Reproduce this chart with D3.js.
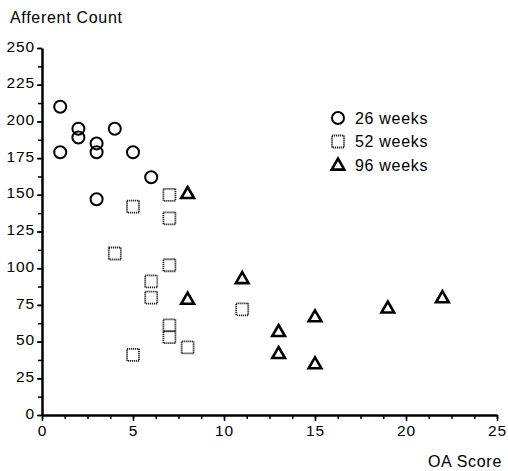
<!DOCTYPE html>
<html>
<head>
<meta charset="utf-8">
<script src="https://cdn.jsdelivr.net/npm/d3@7"></script>
<style>
  body { margin: 0; background: #fff; }
  text { font-family: "Liberation Sans", Arial, sans-serif; fill: #000; }
</style>
</head>
<body>
<script>
// OA score (x) and afferent count (y) for each group
const weeks26X = [1, 1, 2, 2, 3, 3, 3, 4, 5, 6];
const weeks26Y = [210, 179, 195, 189, 185, 179, 147, 195, 179, 162];
const weeks52X = [4, 5, 5, 6, 6, 7, 7, 7, 7, 7, 8, 11];
const weeks52Y = [110, 142, 41, 91, 80, 150, 134, 102, 61, 53, 46, 72];
const weeks96X = [8, 8, 11, 13, 13, 15, 15, 19, 22];
const weeks96Y = [151, 79, 93, 57, 42, 67, 35, 73, 80];
const legendLabels = ['26 weeks', '52 weeks', '96 weeks'];
const xTicks = [0, 5, 10, 15, 20, 25];
const yTicks = [0, 25, 50, 75, 100, 125, 150, 175, 200, 225, 250];

const svg = d3.select('body').append('svg')
    .attr('width', 508)
    .attr('height', 471);

const x = d3.scaleLinear().domain([0, 25]).range([42, 497]);
const y = d3.scaleLinear().domain([0, 250]).range([415, 48]);

// minor ticks
svg.append('g')
    .attr('transform', 'translate(0,415)')
    .call(d3.axisBottom(x).tickValues(d3.range(0, 25.01, 1.25)).tickSize(4).tickFormat(''))
    .call(g => g.select('.domain').remove());
svg.append('g')
    .attr('transform', 'translate(42,0)')
    .call(d3.axisLeft(y).tickValues(d3.range(0, 250.01, 12.5)).tickSize(4).tickFormat(''))
    .call(g => g.select('.domain').remove());

// major ticks + labels
const xAxis = svg.append('g')
    .attr('transform', 'translate(0,415)')
    .call(d3.axisBottom(x).tickValues(xTicks).tickSize(6).tickSizeOuter(0).tickPadding(4));
const yAxis = svg.append('g')
    .attr('transform', 'translate(42,0)')
    .call(d3.axisLeft(y).tickValues(yTicks).tickSize(5).tickSizeOuter(0).tickPadding(2));

[xAxis, yAxis].forEach(g => {
    g.selectAll('text').style('font-size', '15.5px').style('letter-spacing', '0.9px')
        .attr('fill', '#000');
    g.select('.domain').attr('stroke', '#000').attr('stroke-width', 2.5);
});
yAxis.selectAll('text').attr('dy', '0.2em');
svg.selectAll('.tick line').attr('stroke', '#000').attr('stroke-width', 1.5);

svg.append('text').attr('x', 10).attr('y', 23)
    .style('font-size', '16px').style('letter-spacing', '0.7px').text('Afferent Count');
svg.append('text').attr('x', 502).attr('y', 467).attr('text-anchor', 'end')
    .style('font-size', '16px').style('letter-spacing', '0.7px').text('OA Score');

const tri = d3.symbol().type(d3.symbolTriangle).size(70);

function circle(g, cx, cy) {
    g.append('circle').attr('cx', cx).attr('cy', cy).attr('r', 6)
        .attr('fill', 'none').attr('stroke', '#000').attr('stroke-width', 2);
}
function square(g, cx, cy) {
    g.append('rect').attr('x', cx - 6).attr('y', cy - 6).attr('width', 12).attr('height', 12)
        .attr('fill', 'none').attr('stroke', '#222').attr('stroke-width', 1.8)
        .attr('stroke-dasharray', '1.2,0.8');
}
function triangle(g, cx, cy) {
    g.append('path').attr('d', tri).attr('transform', `translate(${cx},${cy + 1})`)
        .attr('fill', 'none').attr('stroke', '#000').attr('stroke-width', 2.6)
        .attr('stroke-linejoin', 'miter');
}

const pts = svg.append('g');
weeks26X.forEach((v, i) => circle(pts, x(v), y(weeks26Y[i])));
weeks52X.forEach((v, i) => square(pts, x(v), y(weeks52Y[i])));
weeks96X.forEach((v, i) => triangle(pts, x(v), y(weeks96Y[i])));

// legend
const drawers = [circle, square, triangle];
const legend = svg.append('g');
legendLabels.forEach((label, i) => {
    const ly = 118 + i * 23.5;
    drawers[i](legend, 338, ly);
    legend.append('text').attr('x', 355).attr('y', ly + 5.5)
        .style('font-size', '16px').style('letter-spacing', '0.7px').text(label);
});
</script>
</body>
</html>
